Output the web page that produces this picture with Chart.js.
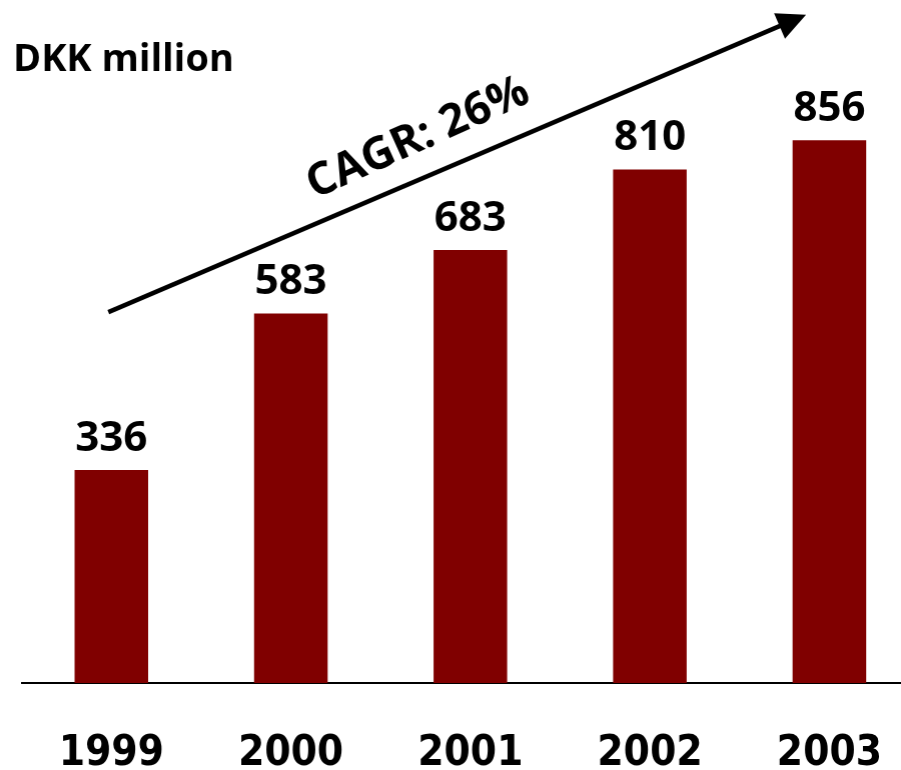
<!DOCTYPE html>
<html>
<head>
<meta charset="utf-8">
<script src="https://cdn.jsdelivr.net/npm/chart.js@4.4.0/dist/chart.umd.min.js"></script>
<style>
  html, body { margin: 0; padding: 0; background: #fff; overflow: hidden; }
  #wrap { position: relative; width: 922.5px; height: 770px; }
</style>
</head>
<body>
<div id="wrap"><canvas id="myChart"></canvas></div>
<script>
// Chart data
const years = ['1999', '2000', '2001', '2002', '2003'];
const revenue = [336, 583, 683, 810, 856];
const unitLabel = 'DKK million';
const cagrText = 'CAGR: 26%';

const barColor = '#800000';

// Draws value labels, unit title and the CAGR arrow
const annotations = {
    id: 'annotations',
    afterDatasetsDraw(chart) {
        const ctx = chart.ctx;
        const meta = chart.getDatasetMeta(0);
        const xs = chart.scales.x;
        const ys = chart.scales.y;

        ctx.save();
        ctx.fillStyle = '#000';
        ctx.textAlign = 'center';
        ctx.textBaseline = 'alphabetic';
        ctx.font = 'bold 42px "Open Sans"';
        meta.data.forEach((bar, i) => {
            ctx.fillText(String(revenue[i]), bar.x, bar.y - 19);
        });

        // unit title
        ctx.textAlign = 'left';
        ctx.font = 'bold 38px "Open Sans"';
        ctx.fillText(unitLabel, 13, 71);

        // CAGR arrow, anchored to the scales
        const x1 = xs.getPixelForValue(0) - 3;
        const y1 = ys.getPixelForValue(585);
        const x2 = xs.getPixelForValue(3.87);
        const y2 = ys.getPixelForValue(1054);
        const ang = Math.atan2(y2 - y1, x2 - x1);
        const head = 32;
        ctx.strokeStyle = '#000';
        ctx.lineWidth = 4.5;
        ctx.beginPath();
        ctx.moveTo(x1, y1);
        ctx.lineTo(x2 - Math.cos(ang) * head * 0.8, y2 - Math.sin(ang) * head * 0.8);
        ctx.stroke();
        ctx.beginPath();
        ctx.moveTo(x2, y2);
        ctx.lineTo(x2 - head * Math.cos(ang - 0.45), y2 - head * Math.sin(ang - 0.45));
        ctx.lineTo(x2 - head * Math.cos(ang + 0.45), y2 - head * Math.sin(ang + 0.45));
        ctx.closePath();
        ctx.fill();

        // rotated label above the arrow
        ctx.translate(314, 199);
        ctx.rotate(ang - 0.02);
        ctx.font = 'bold 45px "Open Sans"';
        ctx.textAlign = 'left';
        ctx.fillText(cagrText, 0, 0);
        ctx.restore();
    }
};

const ctx = document.getElementById('myChart').getContext('2d');
const myChart = new Chart(ctx, {
    type: 'bar',
    data: {
        labels: years,
        datasets: [{
            data: revenue,
            backgroundColor: barColor,
            borderWidth: 0,
            barPercentage: 0.82,
            categoryPercentage: 0.5
        }]
    },
    options: {
        responsive: true,
        maintainAspectRatio: false,
        animation: false,
        layout: {
            padding: { left: 21.6, right: 4.4, top: 49, bottom: 0 }
        },
        plugins: {
            legend: { display: false },
            tooltip: { enabled: false }
        },
        scales: {
            x: {
                grid: { display: false },
                border: { display: true, color: '#000', width: 2 },
                ticks: {
                    color: '#000',
                    padding: 38,
                    font: { family: '"DejaVu Sans Condensed", "DejaVu Sans"', weight: 'bold', size: 42 }
                },
                afterFit(scale) { scale.height = 87; }
            },
            y: {
                display: false,
                min: 0,
                max: 1000
            }
        }
    },
    plugins: [annotations]
});
</script>
</body>
</html>
